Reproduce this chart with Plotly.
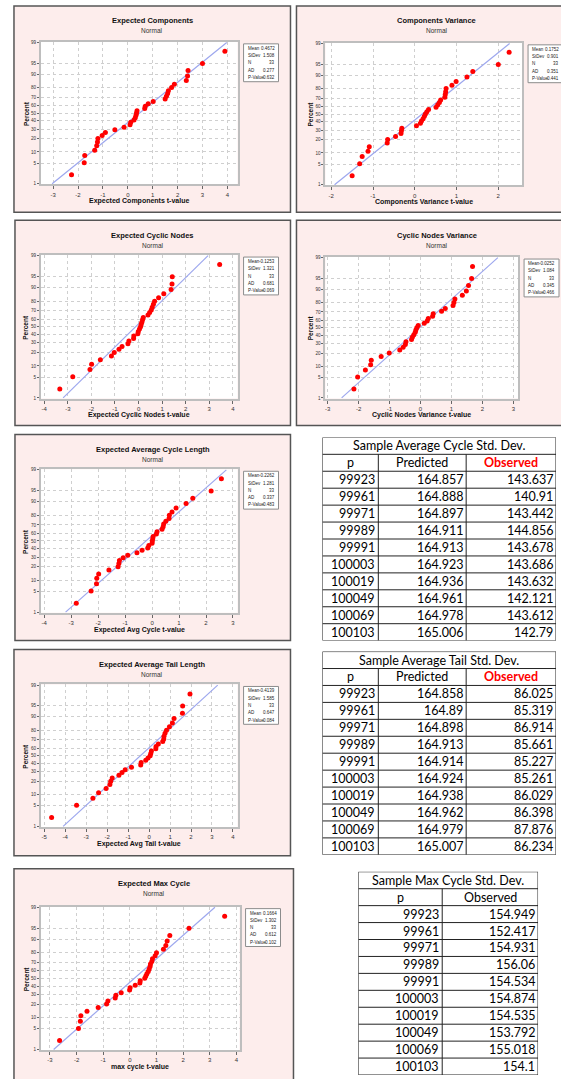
import plotly.graph_objects as go
from statistics import NormalDist

W, H = 561, 1079

# ---------------- data (sorted sample values) -------------
comp_t = [-2.26, -1.75, -1.73, -1.33, -1.25, -1.22, -1.20, -1.03, -0.90, -0.52, -0.15,
          0.09, 0.12, 0.25, 0.30, 0.33, 0.35, 0.37, 0.68, 0.70, 0.82, 1.02, 1.50, 1.55,
          1.60, 1.63, 1.76, 1.87, 2.35, 2.40, 2.42, 3.00, 3.90]
comp_var_t = [-1.50, -1.32, -1.26, -1.12, -1.09, -0.66, -0.65, -0.46, -0.33, -0.32, -0.31,
              0.04, 0.135, 0.16, 0.20, 0.23, 0.255, 0.29, 0.33, 0.51, 0.55, 0.59, 0.62,
              0.72, 0.73, 0.74, 0.75, 0.89, 0.99, 1.25, 1.39, 2.00, 2.26]
cyc_nodes_t = [-3.34, -2.79, -2.06, -1.99, -1.62, -1.15, -1.03, -0.83, -0.70, -0.45, -0.41,
               -0.21, -0.20, -0.03, -0.01, 0.04, 0.085, 0.11, 0.14, 0.17, 0.20, 0.40, 0.47,
               0.54, 0.58, 0.63, 0.68, 0.85, 1.07, 1.38, 1.42, 1.43, 3.44]
cyc_nodes_var_t = [-2.15, -2.03, -1.78, -1.61, -1.59, -1.27, -1.01, -0.67, -0.56, -0.49, -0.47,
                   -0.29, -0.26, -0.215, -0.17, -0.15, -0.12, -0.075, 0.12, 0.215, 0.25, 0.39,
                   0.41, 0.68, 0.80, 1.05, 1.08, 1.11, 1.35, 1.48, 1.55, 1.65, 1.68]
avg_cycle_t = [-2.81, -2.26, -2.06, -2.05, -1.98, -1.60, -1.26, -1.23, -1.21, -1.07, -0.90,
               -0.56, -0.37, -0.16, -0.12, 0.00, 0.01, 0.025, 0.04, 0.16, 0.185, 0.37, 0.41,
               0.43, 0.51, 0.63, 0.64, 0.74, 0.89, 1.26, 1.51, 2.19, 2.57]
avg_tail_t = [-4.65, -3.46, -2.68, -2.41, -2.05, -1.87, -1.83, -1.76, -1.44, -1.29, -1.14,
              -0.84, -0.40, -0.38, -0.16, -0.05, 0.05, 0.08, 0.11, 0.32, 0.33, 0.44, 0.65,
              0.70, 0.71, 0.76, 0.83, 0.97, 1.11, 1.19, 1.59, 1.60, 1.95]
max_cycle_t = [-2.64, -1.93, -1.86, -1.84, -1.61, -1.19, -0.875, -0.825, -0.55, -0.525, -0.325,
               -0.01, 0.01, 0.20, 0.375, 0.39, 0.56, 0.60, 0.64, 0.69, 0.725, 0.76, 0.775,
               0.825, 0.85, 0.95, 1.00, 1.26, 1.35, 1.40, 1.50, 2.22, 3.56]

# fitted normal statistics: Mean, StDev, N, AD, P-Value
comp_stats = [0.4672, 1.508, 33, 0.277, 0.632]
comp_var_stats = [0.1752, 0.9012, 33, 0.351, 0.441]
cyc_nodes_stats = [-0.1253, 1.321, 33, 0.681, 0.069]
cyc_nodes_var_stats = [-0.0252, 1.084, 33, 0.345, 0.466]
avg_cycle_stats = [-0.2262, 1.281, 33, 0.337, 0.483]
avg_tail_stats = [-0.4139, 1.585, 33, 0.647, 0.084]
max_cycle_stats = [0.1664, 1.302, 33, 0.612, 0.102]

stat_labels = ["Mean", "StDev", "N", "AD", "P-Value"]
pct_ticks = [1, 5, 10, 20, 30, 40, 50, 60, 70, 80, 90, 95, 99]

# tables
p_values = [99923, 99961, 99971, 99989, 99991, 100003, 100019, 100049, 100069, 100103]
avgcyc_pred = ["164.857", "164.888", "164.897", "164.911", "164.913", "164.923", "164.936",
               "164.961", "164.978", "165.006"]
avgcyc_obs = ["143.637", "140.91", "143.442", "144.856", "143.678", "143.686", "143.632",
              "142.121", "143.612", "142.79"]
tail_pred = ["164.858", "164.89", "164.898", "164.913", "164.914", "164.924", "164.938",
             "164.962", "164.979", "165.007"]
tail_obs = ["86.025", "85.319", "86.914", "85.661", "85.227", "85.261", "86.029", "86.398",
            "87.876", "86.234"]
maxcyc_obs = ["154.949", "152.417", "154.931", "156.06", "154.534", "154.874", "154.535",
              "153.792", "155.018", "154.1"]

# ---------------- layout helpers ----------------
nd = NormalDist()


def fx(x):
    return x / W


def fy(y):
    return 1 - y / H


panels = [
    dict(title="Expected Components", xlabel="Expected Components t-value", data=comp_t,
         stats=comp_stats, frame=(13, 4, 290, 211), plot=(40, 40, 237, 183),
         xr=(-3.49, 4.41), ticks=list(range(-3, 5))),
    dict(title="Components Variance", xlabel="Components Variance t-value", data=comp_var_t,
         stats=comp_var_stats, frame=(296, 4, 577, 211), plot=(325, 41, 522, 184),
         xr=(-2.14, 2.57), ticks=list(range(-2, 3))),
    dict(title="Expected Cyclic Nodes", xlabel="Expected Cyclic Nodes t-value", data=cyc_nodes_t,
         stats=cyc_nodes_stats, frame=(14, 219, 290, 425), plot=(40, 254, 237, 398),
         xr=(-4.14, 4.2), ticks=list(range(-4, 5))),
    dict(title="Cyclic Nodes Variance", xlabel="Cyclic Nodes Variance t-value",
         data=cyc_nodes_var_t, stats=cyc_nodes_var_stats, frame=(296, 219, 577, 425),
         plot=(325, 256, 518, 398), xr=(-3.07, 3.15), ticks=list(range(-3, 4))),
    dict(title="Expected Average Cycle Length", xlabel="Expected Avg Cycle t-value",
         data=avg_cycle_t, stats=avg_cycle_stats, frame=(14, 434, 290, 641),
         plot=(40, 469, 237, 613), xr=(-4.12, 3.17), ticks=list(range(-4, 4))),
    dict(title="Expected Average Tail Length", xlabel="Expected Avg Tail t-value",
         data=avg_tail_t, stats=avg_tail_stats, frame=(13, 650, 290, 857),
         plot=(40, 685, 237, 828), xr=(-5.16, 4.22), ticks=list(range(-5, 5))),
    dict(title="Expected Max Cycle", xlabel="max cycle t-value", data=max_cycle_t,
         stats=max_cycle_stats, frame=(13, 870, 293, 1095), plot=(40, 908, 239, 1052),
         xr=(-3.34, 4.12), ticks=list(range(-3, 5))),
]

PINK = "#FDEDEC"
FONT = "Liberation Sans, Arial, sans-serif"
TFONT = "Lato, Open Sans, sans-serif"

fig = go.Figure()
shapes = []
annotations = []
layout_axes = {}


def ann(x, y, text, size, color="#111111", family=FONT, xanchor="center", xref="paper",
        yref="paper", **kw):
    d = dict(x=x, y=y, xref=xref, yref=yref, text=text, showarrow=False,
             xanchor=xanchor, yanchor="middle",
             font=dict(family=family, size=size, color=color))
    d.update(kw)
    annotations.append(d)


zlo, zhi = nd.inv_cdf(0.01), nd.inv_cdf(0.99)

for i, p in enumerate(panels, start=1):
    xa = "x" if i == 1 else f"x{i}"
    ya = "y" if i == 1 else f"y{i}"
    fl, ft, fr, fb = p["frame"]
    pl, pt, pr, pb = p["plot"]
    shapes.append(dict(type="rect", xref="paper", yref="paper", x0=fx(fl), x1=fx(fr),
                       y0=fy(fb), y1=fy(ft), fillcolor=PINK,
                       line=dict(color="#555555", width=1.5), layer="below"))
    shapes.append(dict(type="rect", xref="paper", yref="paper", x0=fx(pl), x1=fx(pr),
                       y0=fy(pb), y1=fy(pt), fillcolor="white",
                       line=dict(width=0), layer="below"))
    n = len(p["data"])
    ranks = [(k - 0.3) / (n + 0.4) for k in range(1, n + 1)]
    yz = [nd.inv_cdf(q) for q in ranks]
    mean, sd = p["stats"][0], p["stats"][1]
    fig.add_trace(go.Scatter(x=[mean + sd * zlo, mean + sd * zhi], y=[zlo, zhi],
                             mode="lines", line=dict(color="#9DA7EE", width=1.2),
                             xaxis=xa, yaxis=ya, showlegend=False, hoverinfo="skip"))
    fig.add_trace(go.Scatter(x=sorted(p["data"]), y=yz, mode="markers",
                             marker=dict(color="#FF0000", size=5),
                             xaxis=xa, yaxis=ya, showlegend=False))
    xkey = "xaxis" if i == 1 else f"xaxis{i}"
    ykey = "yaxis" if i == 1 else f"yaxis{i}"
    layout_axes[xkey] = dict(domain=[fx(pl), fx(pr)], anchor=ya, range=list(p["xr"]),
                             tickvals=p["ticks"], ticktext=[str(t) for t in p["ticks"]],
                             showgrid=True, gridcolor="#CFCFCF", griddash="dot", gridwidth=1,
                             zeroline=False, showline=True, mirror=True, linecolor="#BEBEBE",
                             linewidth=2, ticks="outside", ticklen=3, tickcolor="#666666",
                             tickfont=dict(family=FONT, size=6, color="#333333"))
    layout_axes[ykey] = dict(domain=[fy(pb), fy(pt)], anchor=xa,
                             range=[zlo - 0.02, zhi + 0.02],
                             tickvals=[nd.inv_cdf(q / 100) for q in pct_ticks],
                             ticktext=[str(q) for q in pct_ticks],
                             showgrid=True, gridcolor="#CFCFCF", griddash="dot", gridwidth=1,
                             zeroline=False, showline=True, mirror=True, linecolor="#BEBEBE",
                             linewidth=2, ticks="outside", ticklen=2, tickcolor="#666666",
                             tickfont=dict(family=FONT, size=4.6, color="#333333"))
    cx = (fl + fr) / 2
    ann(fx(cx), fy(ft + 15), f"<b>{p['title']}</b>", 7.5)
    ann(fx(cx), fy(ft + 25), "Normal", 6.5, color="#333333")
    ann(fx((pl + pr) / 2), fy(pb + 17), f"<b>{p['xlabel']}</b>", 7)
    ann(fx(pl - 15), fy((pt + pb) / 2), "<b>Percent</b>", 6.5, textangle=-90)
    # stats box
    bl, bt = pr + 6, pt + 2
    br, bb = bl + 35, bt + 38
    shapes.append(dict(type="rect", xref="paper", yref="paper", x0=fx(bl), x1=fx(br),
                       y0=fy(bb), y1=fy(bt), fillcolor="white",
                       line=dict(color="#8C8C8C", width=1)))
    s = p["stats"]
    vals = [f"{s[0]:.4f}", f"{s[1]:.3f}", f"{s[2]}", f"{s[3]:.3f}", f"{s[4]:.3f}"]
    for r, (lab, v) in enumerate(zip(stat_labels, vals)):
        yy = bt + 4.5 + r * 7.3
        ann(fx(bl + 2), fy(yy), lab, 4.5, color="#222222", xanchor="left")
        ann(fx(br - 2), fy(yy), v, 4.5, color="#222222", xanchor="right")

# ---------------- tables ----------------
tables = [
    dict(title="Sample Average Cycle Std. Dev.", box=(322, 437, 556, 641),
         cols=[322, 378, 466, 556], headers=["p", "Predicted", "<b>Observed</b>"],
         hcolors=["black", "black", "#FF0000"],
         columns=[[str(v) for v in p_values], avgcyc_pred, avgcyc_obs]),
    dict(title="Sample Average Tail Std. Dev.", box=(322, 652, 556, 856),
         cols=[322, 378, 466, 556], headers=["p", "Predicted", "<b>Observed</b>"],
         hcolors=["black", "black", "#FF0000"],
         columns=[[str(v) for v in p_values], tail_pred, tail_obs]),
    dict(title="Sample Max Cycle Std. Dev.", box=(358, 873, 538, 1077),
         cols=[358, 442, 538], headers=["p", "Observed"], hcolors=["black", "black"],
         columns=[[str(v) for v in p_values], maxcyc_obs]),
]

for j, t in enumerate(tables, start=len(panels) + 1):
    xa, ya = f"x{j}", f"y{j}"
    l, tp, r, b = t["box"]
    width = r - l
    nrows = 2 + len(t["columns"][0])
    layout_axes[f"xaxis{j}"] = dict(domain=[fx(l), fx(r)], anchor=ya, range=[0, width],
                                    visible=False, fixedrange=True)
    layout_axes[f"yaxis{j}"] = dict(domain=[fy(b), fy(tp)], anchor=xa, range=[nrows, 0],
                                    visible=False, fixedrange=True)
    edges = [c - l for c in t["cols"]]
    for k in range(nrows + 1):
        shapes.append(dict(type="line", xref=xa, yref=ya, x0=0, x1=width, y0=k, y1=k,
                           line=dict(color="#222222", width=1)))
    shapes.append(dict(type="line", xref=xa, yref=ya, x0=0, x1=0, y0=0, y1=nrows,
                       line=dict(color="#222222", width=1)))
    shapes.append(dict(type="line", xref=xa, yref=ya, x0=width, x1=width, y0=0, y1=nrows,
                       line=dict(color="#222222", width=1)))
    for e in edges[1:-1]:
        shapes.append(dict(type="line", xref=xa, yref=ya, x0=e, x1=e, y0=1, y1=nrows,
                           line=dict(color="#222222", width=1)))
    ann(width / 2, 0.5, t["title"], 12.5, color="black", family=TFONT, xref=xa, yref=ya)
    for c, (hd, hc) in enumerate(zip(t["headers"], t["hcolors"])):
        ann((edges[c] + edges[c + 1]) / 2, 1.5, hd, 12.5, color=hc, family=TFONT,
            xref=xa, yref=ya)
    for c, col in enumerate(t["columns"]):
        for rr, v in enumerate(col):
            ann(edges[c + 1], 2.5 + rr, v, 12.5, color="black", family=TFONT,
                xanchor="right", xref=xa, yref=ya, xshift=-1)

fig.update_layout(width=W, height=H, margin=dict(l=0, r=0, t=0, b=0),
                  paper_bgcolor="white", plot_bgcolor="white", showlegend=False,
                  shapes=shapes, annotations=annotations, **layout_axes)

fig.write_html("out.html", config={"displayModeBar": False},
               post_script="document.body.style.margin='0px';"
                           "document.body.style.overflow='hidden';")
